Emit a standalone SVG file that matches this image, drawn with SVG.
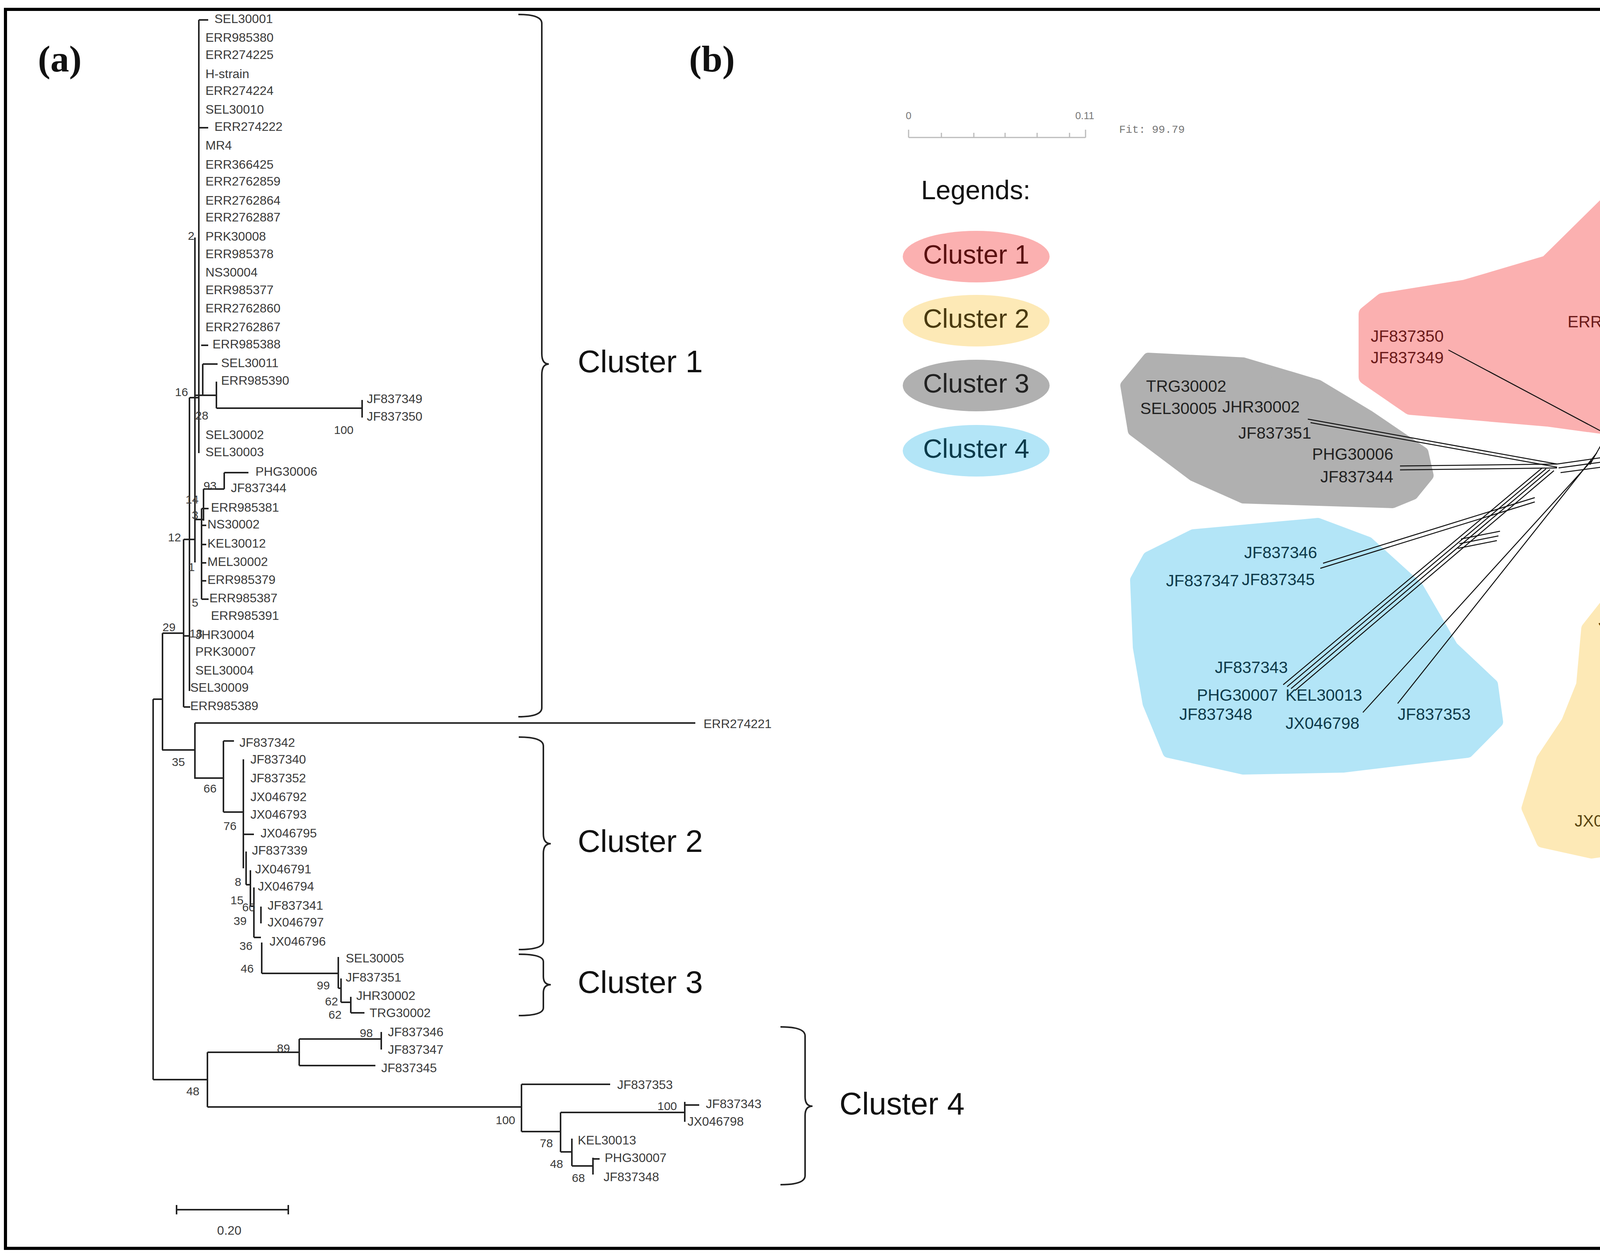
<svg xmlns="http://www.w3.org/2000/svg" width="5660" height="3213" viewBox="0 0 5660 3213">
<style>
.t{font-family:"Liberation Sans",Arial,sans-serif;font-size:32px;fill:#3a3a3a;dominant-baseline:middle}
.n{font-family:"Liberation Sans",Arial,sans-serif;font-size:30px;fill:#3a3a3a;dominant-baseline:middle}
.cl{font-family:"Liberation Sans",Arial,sans-serif;font-size:80px;fill:#111;dominant-baseline:middle}
.pl{font-family:"Liberation Serif","Times New Roman",serif;font-size:96px;font-weight:bold;fill:#111}
.tr line,.tr path{stroke:#222;stroke-width:4;fill:none}
.nw{font-family:"Liberation Sans",Arial,sans-serif;font-size:42px;dominant-baseline:middle}
.r{fill:#6b1a1a}.y{fill:#5a4510}.g{fill:#222}.b{fill:#0e3a4a}
.net line{stroke:#111;stroke-width:2.5}
.lg{font-family:"Liberation Sans",Arial,sans-serif;font-size:68px;text-anchor:middle;dominant-baseline:middle}
</style>
<rect x="14" y="24" width="5628" height="3172" fill="#fff" stroke="#000" stroke-width="8"/>
<text class="pl" x="97" y="183">(a)</text>
<text class="pl" x="1764" y="183">(b)</text>

<!-- Tree connectors -->
<g id="tree-connectors" class="tr">
<path d="M509 51V1160M509 51H533M509 327H533M515 884H533"/>
<path d="M519 932V1012M519 932H557M519 1012H554M554 977V1045M554 1045H927M927 1024V1069"/>
<path d="M499 608V1440M485 1018H509M485 1018V1769M499 1012H519"/>
<path d="M521 1252V1333M521 1252H574M574 1210V1252M574 1210H636M499 1330H521"/>
<path d="M516 1302V1534M516 1302H534M516 1345H528M516 1394H528M516 1441H528M516 1487H528M516 1534H534"/>
<path d="M470 1381V1810M470 1381H499M470 1628H485M470 1810H487M416 1621H470M416 1621V1920M392 1790H416M392 1790V2764"/>
<path d="M415 1920H499M499 1851V1994M499 1851H1780M499 1992H572"/>
<path d="M572 1897V2079M572 1897H599M572 2079H623M623 1944V2223M623 2136H650"/>
<path d="M630 2180V2265M630 2265H641M641 2228V2320M641 2320H650M650 2272V2400M650 2400H668M668 2321V2364M670 2413V2492M670 2492H866"/>
<path d="M866 2450V2530M866 2530H873M873 2505V2566M873 2566H898M898 2552V2593M898 2593H933"/>
<path d="M392 2764H531M531 2694V2834M531 2694H766M766 2660V2728M766 2660H976M976 2642V2687M766 2728H961"/>
<path d="M531 2834H1335M1335 2776V2897M1335 2776H1562M1335 2897H1435M1435 2848V2949M1435 2848H1753M1753 2821V2872M1753 2829H1790"/>
<path d="M1435 2949H1464M1464 2915V2985M1464 2985H1518M1518 2964V3007M1518 2967H1535"/>
<path d="M452 3097H738M452 3085V3109M738 3085V3109"/>
<path d="M1327 37Q1387 37 1387 60V905Q1387 932 1405 932Q1387 932 1387 960V1812Q1387 1835 1327 1835"/>
<path d="M1328 1887Q1391 1887 1391 1910V2135Q1391 2160 1410 2160Q1391 2160 1391 2185V2410Q1391 2431 1328 2431"/>
<path d="M1328 2443Q1391 2443 1391 2462V2500Q1391 2521 1410 2521Q1391 2521 1391 2542V2580Q1391 2600 1328 2600"/>
<path d="M1998 2629Q2061 2629 2061 2652V2808Q2061 2832 2080 2832Q2061 2832 2061 2856V3010Q2061 3033 1998 3033"/>
</g>

<g id="tree-labels">
<text class="t" x="549" y="51">SEL30001</text><text class="t" x="526" y="99">ERR985380</text>
<text class="t" x="526" y="143">ERR274225</text><text class="t" x="526" y="192">H-strain</text>
<text class="t" x="526" y="235">ERR274224</text><text class="t" x="526" y="283">SEL30010</text>
<text class="t" x="549" y="327">ERR274222</text><text class="t" x="526" y="375">MR4</text>
<text class="t" x="526" y="424">ERR366425</text><text class="t" x="526" y="467">ERR2762859</text>
<text class="t" x="526" y="516">ERR2762864</text><text class="t" x="526" y="559">ERR2762887</text>
<text class="t" x="526" y="608">PRK30008</text><text class="t" x="526" y="653">ERR985378</text>
<text class="t" x="526" y="700">NS30004</text><text class="t" x="526" y="745">ERR985377</text>
<text class="t" x="526" y="792">ERR2762860</text><text class="t" x="526" y="840">ERR2762867</text>
<text class="t" x="544" y="884">ERR985388</text><text class="t" x="566" y="932">SEL30011</text>
<text class="t" x="566" y="977">ERR985390</text><text class="t" x="939" y="1024">JF837349</text>
<text class="t" x="939" y="1069">JF837350</text><text class="t" x="526" y="1116">SEL30002</text>
<text class="t" x="526" y="1160">SEL30003</text><text class="t" x="654" y="1210">PHG30006</text>
<text class="t" x="591" y="1252">JF837344</text><text class="t" x="540" y="1302">ERR985381</text>
<text class="t" x="531" y="1345">NS30002</text><text class="t" x="531" y="1394">KEL30012</text>
<text class="t" x="531" y="1441">MEL30002</text><text class="t" x="531" y="1487">ERR985379</text>
<text class="t" x="536" y="1534">ERR985387</text><text class="t" x="540" y="1579">ERR985391</text>
<text class="t" x="500" y="1628">JHR30004</text><text class="t" x="500" y="1671">PRK30007</text>
<text class="t" x="500" y="1719">SEL30004</text><text class="t" x="487" y="1763">SEL30009</text>
<text class="t" x="487" y="1810">ERR985389</text>
<text class="t" x="1801" y="1856">ERR274221</text>
<text class="t" x="613" y="1904">JF837342</text><text class="t" x="641" y="1947">JF837340</text>
<text class="t" x="641" y="1995">JF837352</text><text class="t" x="641" y="2043">JX046792</text>
<text class="t" x="641" y="2088">JX046793</text><text class="t" x="667" y="2136">JX046795</text>
<text class="t" x="645" y="2180">JF837339</text><text class="t" x="653" y="2228">JX046791</text>
<text class="t" x="660" y="2272">JX046794</text><text class="t" x="685" y="2321">JF837341</text>
<text class="t" x="685" y="2364">JX046797</text><text class="t" x="690" y="2413">JX046796</text>
<text class="t" x="885" y="2456">SEL30005</text><text class="t" x="885" y="2505">JF837351</text>
<text class="t" x="912" y="2552">JHR30002</text><text class="t" x="946" y="2596">TRG30002</text>
<text class="t" x="993" y="2645">JF837346</text><text class="t" x="993" y="2690">JF837347</text>
<text class="t" x="976" y="2737">JF837345</text><text class="t" x="1580" y="2780">JF837353</text>
<text class="t" x="1807" y="2829">JF837343</text><text class="t" x="1760" y="2874">JX046798</text>
<text class="t" x="1479" y="2922">KEL30013</text><text class="t" x="1548" y="2967">PHG30007</text>
<text class="t" x="1545" y="3016">JF837348</text>
<text class="t" x="587" y="3153" text-anchor="middle">0.20</text>
</g>
<g id="tree-numbers">
<text class="n" x="481" y="606">2</text><text class="n" x="448" y="1006">16</text>
<text class="n" x="500" y="1066">28</text><text class="n" x="855" y="1103">100</text>
<text class="n" x="521" y="1246">93</text><text class="n" x="475" y="1281">14</text>
<text class="n" x="491" y="1321">3</text><text class="n" x="430" y="1378">12</text>
<text class="n" x="482" y="1454">1</text><text class="n" x="491" y="1545">5</text>
<text class="n" x="416" y="1608">29</text><text class="n" x="485" y="1624">18</text>
<text class="n" x="440" y="1953">35</text><text class="n" x="521" y="2021">66</text>
<text class="n" x="572" y="2117">76</text><text class="n" x="601" y="2260">8</text>
<text class="n" x="590" y="2307">15</text><text class="n" x="620" y="2325">60</text>
<text class="n" x="598" y="2360">39</text><text class="n" x="613" y="2424">36</text>
<text class="n" x="616" y="2482">46</text><text class="n" x="811" y="2525">99</text>
<text class="n" x="832" y="2566">62</text><text class="n" x="841" y="2600">62</text>
<text class="n" x="709" y="2686">89</text><text class="n" x="921" y="2647">98</text>
<text class="n" x="477" y="2796">48</text><text class="n" x="1269" y="2870">100</text>
<text class="n" x="1683" y="2834">100</text><text class="n" x="1382" y="2929">78</text>
<text class="n" x="1408" y="2982">48</text><text class="n" x="1464" y="3018">68</text>
</g>
<g id="tree-clusters">
<text class="cl" x="1479" y="932">Cluster 1</text>
<text class="cl" x="1479" y="2160">Cluster 2</text>
<text class="cl" x="1479" y="2521">Cluster 3</text>
<text class="cl" x="2149" y="2832">Cluster 4</text>
</g>

<!-- Panel b: scale + legend -->
<g id="scale-b">
<path d="M2326 352H2779M2326 332V352M2410 340V352M2493 340V352M2573 340V352M2655 340V352M2738 340V352M2779 332V352" stroke="#bbb" stroke-width="3" fill="none"/>
<text x="2326" y="305" font-family="Liberation Sans,sans-serif" font-size="26" fill="#777" text-anchor="middle">0</text>
<text x="2777" y="305" font-family="Liberation Sans,sans-serif" font-size="26" fill="#777" text-anchor="middle">0.11</text>
<text x="2865" y="340" font-family="Liberation Mono,monospace" font-size="28" fill="#777">Fit: 99.79</text>
</g>
<g id="legend">
<text x="2358" y="510" font-family="Liberation Sans,sans-serif" font-size="68" fill="#111">Legends:</text>
<g id="leg1"><ellipse cx="2499" cy="657" rx="188" ry="66" fill="#fbb0b0"/><text class="lg" x="2499" y="657" fill="#5a1010">Cluster 1</text></g>
<g id="leg2"><ellipse cx="2499" cy="821" rx="188" ry="66" fill="#fde9b6"/><text class="lg" x="2499" y="821" fill="#4a3a10">Cluster 2</text></g>
<g id="leg3"><ellipse cx="2499" cy="987" rx="188" ry="66" fill="#b0b0b0"/><text class="lg" x="2499" y="987" fill="#222">Cluster 3</text></g>
<g id="leg4"><ellipse cx="2499" cy="1154" rx="188" ry="66" fill="#b3e5f7"/><text class="lg" x="2499" y="1154" fill="#0b3a4a">Cluster 4</text></g>
</g>

<!-- blobs -->
<g id="blobs">
<path fill="#fbb0b0" d="M3498 804L3540 770L3751 736L3961 674L4186 452L4410 269L4621 246L4873 330L5014 384L5308 380L5420 491L5434 659L5420 889L5266 1118L5084 1279L4873 1302L4522 1217L4312 1156L4242 1110L3961 1072L3610 1042L3498 965Z" stroke="#fbb0b0" stroke-width="40" stroke-linejoin="round"/>
<path fill="#b0b0b0" d="M2940 918L3183 930L3374 987L3502 1064L3642 1159L3655 1217L3616 1265L3565 1286L3183 1274L3055 1217L2902 1102L2883 987Z" stroke="#b0b0b0" stroke-width="30" stroke-linejoin="round"/>
<path fill="#b3e5f7" d="M2940 1427L3055 1370L3374 1341L3502 1389L3629 1504L3718 1657L3820 1753L3833 1848L3757 1925L3438 1963L3183 1968L2991 1925L2940 1801L2915 1657L2908 1485Z" stroke="#b3e5f7" stroke-width="30" stroke-linejoin="round"/>
<path fill="#fde9b6" d="M4139 1513L4267 1466L4458 1461L4586 1504L4630 1561L4624 1753L4611 1944L4522 2040L4394 2088L4267 2155L4075 2183L3948 2155L3910 2069L3948 1944L4012 1848L4050 1753L4063 1609Z" stroke="#fde9b6" stroke-width="30" stroke-linejoin="round"/>
</g>

<!-- network connectors -->
<g id="network" class="net">
<line x1="3708" y1="896" x2="4114" y2="1112" stroke-width="5"/>
<line x1="4114" y1="1112" x2="4280" y2="1080"/><line x1="4110" y1="1125" x2="4282" y2="1095"/><line x1="4106" y1="1138" x2="4285" y2="1110"/>
<line x1="4114" y1="1112" x2="4070" y2="1190"/><line x1="4280" y1="1080" x2="4250" y2="1150"/>
<line x1="4250" y1="1150" x2="4440" y2="930" stroke="#5a0a0a"/><line x1="4262" y1="1156" x2="4448" y2="940" stroke="#5a0a0a"/><line x1="4274" y1="1162" x2="4456" y2="950" stroke="#5a0a0a"/><line x1="4286" y1="1168" x2="4462" y2="962" stroke="#5a0a0a"/><line x1="4240" y1="1140" x2="4430" y2="922" stroke="#5a0a0a"/>
<line x1="4120" y1="1108" x2="4300" y2="1060" stroke="#5a0a0a"/>
<line x1="3348" y1="1073" x2="3986" y2="1188" stroke-width="5"/><line x1="3355" y1="1082" x2="3986" y2="1196" stroke="#555"/>
<line x1="3584" y1="1193" x2="3986" y2="1188" stroke-width="5"/><line x1="3584" y1="1203" x2="3986" y2="1198" stroke="#555"/>
<line x1="3986" y1="1188" x2="4250" y2="1150"/><line x1="3990" y1="1198" x2="4254" y2="1162"/><line x1="3995" y1="1210" x2="4258" y2="1175"/>
<line x1="3285" y1="1753" x2="3948" y2="1198"/><line x1="3295" y1="1758" x2="3958" y2="1200"/><line x1="3305" y1="1763" x2="3968" y2="1202"/><line x1="3315" y1="1768" x2="3978" y2="1205"/>
<line x1="3387" y1="1442" x2="3929" y2="1274" stroke-width="5"/><line x1="3380" y1="1455" x2="3929" y2="1285"/>
<line x1="3489" y1="1824" x2="4075" y2="1179"/>
<line x1="3578" y1="1801" x2="4088" y2="1159"/>
<line x1="3740" y1="1380" x2="3840" y2="1360"/><line x1="3736" y1="1392" x2="3836" y2="1372"/><line x1="3732" y1="1404" x2="3832" y2="1384"/>
<line x1="4267" y1="1150" x2="4286" y2="1552"/><line x1="4280" y1="1155" x2="4298" y2="1540"/>
<line x1="4324" y1="1159" x2="4350" y2="1494"/><line x1="4312" y1="1156" x2="4336" y2="1500"/>
<line x1="4286" y1="1552" x2="4350" y2="1494" stroke="#5a4510"/><line x1="4290" y1="1520" x2="4360" y2="1560" stroke="#5a4510"/><line x1="4300" y1="1500" x2="4380" y2="1545" stroke="#5a4510"/>
</g>

<g id="cluster1-labels" class="nw r">
<text x="4449" y="336">ERR2762867</text><text x="4396" y="393">ERR985380</text>
<text x="4343" y="452">ERR366425</text><text x="4291" y="506">ERR2762864</text>
<text x="4270" y="558">ERR274225</text><text x="4637" y="553">ERR985378</text>
<text x="4245" y="613">ERR985379</text><text x="4562" y="609">SEL30003</text>
<text x="5171" y="650">NS30004</text><text x="4203" y="665">MEL30002</text>
<text x="4427" y="668">ERR2762859</text><text x="4912" y="703">ERR2762860</text>
<text x="4193" y="715">ERR985381</text><text x="4431" y="736">ERR274224</text>
<text x="4744" y="752">ERR2762887</text><text x="4181" y="770">ERR985387</text>
<text x="4623" y="804">SEL30010</text><text x="4013" y="827">ERR985390</text>
<text x="4252" y="830">ERR985391</text><text x="4539" y="856">PRK30008</text>
<text x="4754" y="856">ERR274222</text><text x="4990" y="843">SEL30002</text>
<text x="4249" y="881">NS30002</text><text x="4455" y="904">ERR985377</text>
<text x="3509" y="864">JF837350</text><text x="3509" y="919">JF837349</text>
<text x="4200" y="957">KEL30012</text><text x="4492" y="969">SEL30011</text>
<text x="4698" y="948">H-strain</text><text x="4849" y="986">MR4</text>
<text x="4470" y="1020">SEL30009</text><text x="4824" y="1036">SEL30001</text>
<text x="4207" y="1053">ERR274221</text><text x="4600" y="1072">SEL30004</text>
<text x="4866" y="1089">ERR985388</text><text x="4849" y="1137">JHR30004</text>
<text x="4863" y="1188">PRK30007</text><text x="4782" y="1242">ERR985389</text>
</g>
<g id="cluster3-labels" class="nw g">
<text x="2934" y="992">TRG30002</text><text x="2919" y="1049">SEL30005</text>
<text x="3129" y="1045">JHR30002</text><text x="3170" y="1112">JF837351</text>
<text x="3359" y="1166">PHG30006</text><text x="3380" y="1224">JF837344</text>
</g>
<g id="cluster4-labels" class="nw b">
<text x="3185" y="1418">JF837346</text><text x="2985" y="1490">JF837347</text>
<text x="3179" y="1487">JF837345</text><text x="3110" y="1712">JF837343</text>
<text x="3064" y="1783">PHG30007</text><text x="3291" y="1783">KEL30013</text>
<text x="3019" y="1832">JF837348</text><text x="3291" y="1855">JX046798</text>
<text x="3578" y="1832">JF837353</text>
</g>
<g id="cluster2-labels" class="nw y">
<text x="4092" y="1592">JF837342</text><text x="4352" y="1569">JX046792</text>
<text x="4320" y="1617">JX046797</text><text x="4340" y="1671">JF837341</text>
<text x="4340" y="1727">JX046795</text><text x="4340" y="1784">JX046794</text>
<text x="4286" y="1839">JF837340</text><text x="4260" y="1891">JF837339</text>
<text x="4225" y="1942">JX046791</text><text x="4178" y="2002">JF837352</text>
<text x="4116" y="2054">JX046793</text><text x="4031" y="2105">JX046796</text>
</g>
</svg>
